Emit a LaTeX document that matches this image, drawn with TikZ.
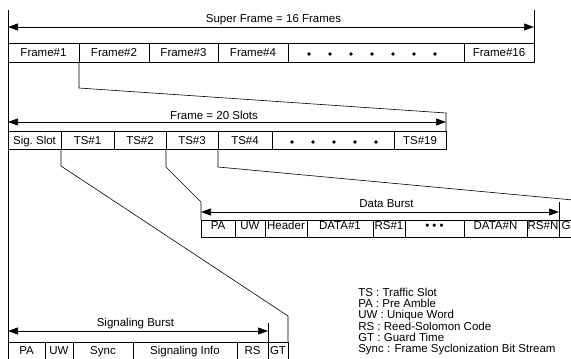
\documentclass[tikz,border=0pt]{standalone}
\usepackage{fontspec}
\setmainfont{Liberation Sans}
\usetikzlibrary{arrows.meta}
\newcommand{\mkcell}[7][]{%
  \node[cellbox,#1,minimum width={#4-#3},minimum height={#6-#5}] (#2) at ({(#3+#4)/2},{(#5+#6)/2}) {#7};}
\begin{document}
\begin{tikzpicture}[x=1pt,y=-1pt,line width=0.6pt,
  cellbox/.style={draw,inner sep=0pt,outer sep=0pt,text height=8.2pt,text depth=0pt,
    font=\fontsize{11.5}{13}\selectfont},
  datarow/.style={text depth=5.4pt},
  sigrow/.style={text depth=4pt},
  lbl/.style={inner sep=0pt,anchor=base,font=\fontsize{11.5}{13}\selectfont},
  legtext/.style={inner sep=0pt,anchor=base west,font=\fontsize{11.5}{13}\selectfont},
  dimarrow/.style={{Triangle[length=10pt,width=7pt]}-{Triangle[length=10pt,width=7pt]}},
  dotmark/.style={circle,fill,inner sep=0pt,minimum size=3.6pt}]
\useasboundingbox (0,0) rectangle (571,359);
\clip (0,0) rectangle (571,359);
% ---------- super frame row ----------
\mkcell{f1}{8}{79}{43}{62}{Frame\#1}
\mkcell{f2}{79}{149}{43}{62}{Frame\#2}
\mkcell{f3}{149}{218}{43}{62}{Frame\#3}
\mkcell{f4}{218}{288}{43}{62}{Frame\#4}
\mkcell{fdots}{288}{464}{43}{62}{}
\mkcell{f16}{464}{534}{43}{62}{Frame\#16}
\foreach \x [count=\i] in {309,330,351,372,393,414,435}
  \node[dotmark] (fd\i) at (\x,54) {};
\coordinate (sfl) at (8,27);
\coordinate (sfr) at (534,27);
\coordinate (topl) at (8,10);
\coordinate (topr) at (534,10);
\draw (topl) -- (f1.north west);
\draw (topr) -- (f16.north east);
\draw[dimarrow] (sfl) -- (sfr);
\node[lbl] (sftext) at (273.5,22.7) {Super Frame = 16 Frames};
% ---------- slot row ----------
\mkcell{sig}{8}{61}{131}{149}{Sig.\ Slot}
\mkcell{ts1}{61}{114}{131}{149}{TS\#1}
\mkcell{ts2}{114}{166}{131}{149}{TS\#2}
\mkcell{ts3}{166}{218}{131}{149}{TS\#3}
\mkcell{ts4}{218}{272}{131}{149}{TS\#4}
\mkcell{tdots}{272}{394}{131}{149}{}
\mkcell{ts19}{394}{446}{131}{149}{TS\#19}
\foreach \x [count=\i] in {292,313,334,355,376}
  \node[dotmark] (td\i) at (\x,142) {};
\coordinate (c1a) at (79,88);
\coordinate (c1b) at (446,113);
\draw (f1.south east) -- (c1a) -- (c1b) -- (ts19.north east);
\draw (f1.south west) -- (sig.north west);
\coordinate (fsl) at (8,122);
\coordinate (fsr) at (446,122);
\draw[dimarrow] (fsl) -- (fsr);
\node[lbl] (fstext) at (214,119.3) {Frame = 20 Slots};
% ---------- data burst ----------
\mkcell[datarow]{dpa}{201}{235}{220}{237}{PA}
\mkcell[datarow]{duw}{235}{265}{220}{237}{UW}
\mkcell[datarow]{dhdr}{265}{307}{220}{237}{Header}
\mkcell[datarow]{dd1}{307}{373}{220}{237}{DATA\#1}
\mkcell[datarow]{drs1}{373}{405}{220}{237}{RS\#1}
\mkcell[datarow]{ddots}{405}{464}{220}{237}{• • •}
\mkcell[datarow]{ddn}{464}{527}{220}{237}{DATA\#N}
\mkcell[datarow]{drsn}{527}{559}{220}{237}{RS\#N}
\mkcell[datarow]{dgt}{559}{573}{220}{237}{G}
\coordinate (c3a) at (166,167);
\coordinate (c3b) at (201,202);
\draw (ts3.south west) -- (c3a) -- (c3b) -- (dpa.north west);
\coordinate (c4a) at (218,167);
\coordinate (c4b) at (573,200);
\draw (ts4.south west) -- (c4a) -- (c4b) -- (dgt.north east);
\coordinate (dbrt) at (559,202);
\draw (dbrt) -- (drsn.north east);
\coordinate (dbl) at (201,212);
\coordinate (dbr) at (559,212);
\draw[dimarrow] (dbl) -- (dbr);
\node[lbl] (dbtext) at (386.5,207) {Data Burst};
% ---------- signaling burst ----------
\mkcell[sigrow]{spa}{8}{45}{342}{362}{PA}
\mkcell[sigrow]{suw}{45}{73}{342}{362}{UW}
\mkcell[sigrow]{ssync}{73}{133}{342}{362}{Sync}
\mkcell[sigrow]{sinfo}{133}{237}{342}{362}{Signaling Info}
\mkcell[sigrow]{srs}{237}{268}{342}{362}{RS}
\mkcell[sigrow]{sgt}{268}{288}{342}{362}{GT}
\draw (sig.south west) -- (spa.north west);
\coordinate (c2a) at (61,166);
\coordinate (c2b) at (288,316);
\draw (ts1.south west) -- (c2a) -- (c2b) -- (sgt.north east);
\coordinate (sbrt) at (268,323);
\draw (sbrt) -- (srs.north east);
\coordinate (sbl) at (8,331);
\coordinate (sbr) at (268,331);
\draw[dimarrow] (sbl) -- (sbr);
\node[lbl] (sbtext) at (135.5,326.7) {Signaling Burst};
% ---------- legend ----------
\node[legtext] (leg1) at (358,296) {TS : Traffic Slot};
\node[legtext] (leg2) at (358,307.3) {PA : Pre Amble};
\node[legtext] (leg3) at (358,318.6) {UW : Unique Word};
\node[legtext] (leg4) at (358,330) {RS : Reed-Solomon Code};
\node[legtext] (leg5) at (358,341.3) {GT : Guard Time};
\node[legtext] (leg6) at (358,352.6) {Sync : Frame Syclonization Bit Stream};
\end{tikzpicture}
\end{document}
